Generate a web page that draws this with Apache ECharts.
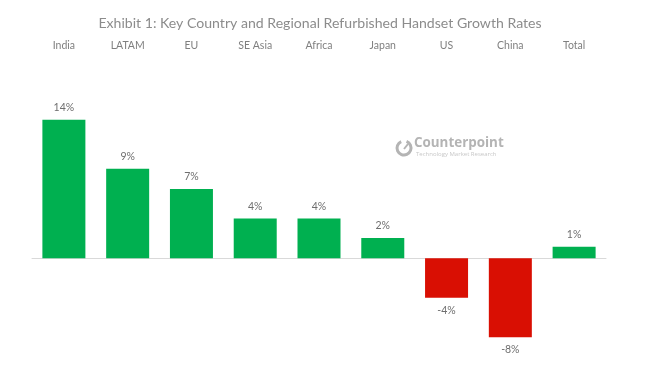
<!DOCTYPE html>
<html><head><meta charset="utf-8">
<style>html,body{margin:0;padding:0;background:#fff}#c{width:650px;height:369px}</style>
<script src="https://cdn.jsdelivr.net/npm/echarts@6/dist/echarts.min.js"></script>
</head><body><div id="c"></div>
<script>
const categories = ['India','LATAM','EU','SE Asia','Africa','Japan','US','China','Total'];
const growth = [14, 9.05, 7, 4, 4, 2.05, -4, -8, 1.15];
const GREEN = '#00b050', RED = '#d90f03', FONT = 'Lato, "Open Sans", sans-serif';
const chart = echarts.init(document.getElementById('c'), null, {renderer:'canvas'});
chart.setOption({
  animation:false,
  backgroundColor:'#fff',
  title:{text:'Exhibit 1: Key Country and Regional Refurbished Handset Growth Rates',
    left:320,top:11,textAlign:'center',
    textStyle:{fontFamily:FONT,fontSize:14.1,fontWeight:'normal',color:'#8c8c8c'}},
  grid:{left:32,right:44,top:100,bottom:12},
  xAxis:[
    {type:'category',data:categories,axisTick:{show:false},axisLabel:{show:false},
     axisLine:{onZero:true,lineStyle:{color:'#d9d9d9',width:1}}},
    {type:'category',data:categories,position:'top',offset:49,axisTick:{show:false},
     axisLine:{show:false},
     axisLabel:{color:'#7f7f7f',fontFamily:FONT,fontSize:10.5,margin:0,interval:0}}
  ],
  yAxis:{type:'value',min:-10,max:16,show:false,splitLine:{show:false}},
  series:[{type:'bar',data:growth,barWidth:43,
    itemStyle:{color:p=>p.value<0?RED:GREEN},
    label:{show:true,position:'outside',distance:7,color:'#6e6e6e',fontFamily:FONT,fontSize:10.5,
      formatter:p=>Math.round(p.value)+'%'}}],
  graphic:[
    {type:'arc',shape:{cx:404,cy:148,r:7,startAngle:-1.2,endAngle:4.3},
      style:{stroke:'#b4b4b4',lineWidth:3,fill:null}},
    {type:'line',shape:{x1:404,y1:149,x2:408,y2:144},style:{stroke:'#b4b4b4',lineWidth:2}},
    {type:'text',x:414,y:137,style:{text:'Counterpoint',fontFamily:'"Open Sans", sans-serif',fontSize:13.4,fontWeight:'bold',fill:'#b4b4b4'}},
    {type:'text',x:416,y:151,style:{text:'Technology Market Research',fontFamily:'"Open Sans", sans-serif',fontSize:6,fill:'#c8c8c8'}}
  ]
});
chart.setOption({title:{left:315}});
</script></body></html>
